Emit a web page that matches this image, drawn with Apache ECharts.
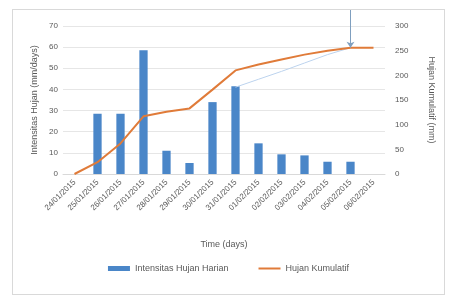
<!DOCTYPE html>
<html>
<head>
<meta charset="utf-8">
<script src="https://cdn.jsdelivr.net/npm/echarts@6/dist/echarts.min.js"></script>
<style>
  html, body { margin: 0; padding: 0; background: #fff; }
  #chart { position: absolute; left: 12px; top: 9px; width: 433px; height: 286px; border: 1px solid #d9d9d9; box-sizing: border-box; }
</style>
</head>
<body>
<div id="chart"></div>
<script>
var dates = ['24/01/2015', '25/01/2015', '26/01/2015', '27/01/2015', '28/01/2015', '29/01/2015', '30/01/2015',
             '31/01/2015', '01/02/2015', '02/02/2015', '03/02/2015', '04/02/2015', '05/02/2015', '06/02/2015'];
var hujanHarian = [0, 28.5, 28.5, 58.5, 11, 5.2, 34, 41.5, 14.5, 9.3, 8.8, 5.8, 5.8, 0];
var hujanKumulatif = [0, 24, 62, 117, 126, 133, 171, 210, 222, 232, 242, 250, 256, 256];
var garisBantu = [null, null, null, null, null, null, null, 176, 192, 208, 225, 242, 256, null];

var chartDom = document.getElementById('chart');
var myChart = echarts.init(chartDom);
var option;
var txt = '#595959';
var fontFam = 'Liberation Sans, Arial, sans-serif';

option = {
  animation: false,
  textStyle: { fontFamily: fontFam },
  grid: { left: 50, right: 59, top: 16, bottom: 120 },
  legend: {
    bottom: 16,
    left: 'center',
    itemGap: 30,
    itemWidth: 22,
    itemHeight: 5,
    textStyle: { color: txt, fontSize: 9 },
    data: [
      { name: 'Intensitas Hujan Harian', icon: 'rect' },
      { name: 'Hujan Kumulatif', icon: 'path://M0 0 H44 V4 H0 Z' }
    ]
  },
  xAxis: {
    type: 'category',
    data: dates,
    name: 'Time (days)',
    nameLocation: 'middle',
    nameGap: 66,
    nameTextStyle: { color: txt, fontSize: 9 },
    axisLine: { lineStyle: { color: '#d9d9d9' } },
    axisTick: { show: false },
    axisLabel: { rotate: 45, color: txt, fontSize: 8, interval: 0, margin: 7 }
  },
  yAxis: [
    {
      type: 'value',
      min: 0, max: 70, interval: 10,
      name: 'Intensitas Hujan (mm/days)',
      nameLocation: 'middle',
      nameGap: 24,
      nameMoveOverlap: false,
      nameTextStyle: { color: txt, fontSize: 9 },
      axisLabel: { color: txt, fontSize: 8, margin: 5 },
      splitLine: { lineStyle: { color: '#e6e6e6' } }
    },
    {
      type: 'value',
      min: 0, max: 300, interval: 50,
      name: 'Hujan Kumulatif (mm)',
      nameLocation: 'middle',
      nameGap: 42,
      nameRotate: -90,
      nameTextStyle: { color: txt, fontSize: 9 },
      axisLabel: { color: txt, fontSize: 8, margin: 10 },
      splitLine: { show: false }
    }
  ],
  series: [
    {
      name: 'Intensitas Hujan Harian',
      type: 'bar',
      data: hujanHarian,
      barWidth: '36%',
      itemStyle: { color: '#4a86c8' }
    },
    {
      name: 'garis',
      type: 'line',
      yAxisIndex: 1,
      data: garisBantu,
      symbol: 'none',
      lineStyle: { color: '#bcd3ee', width: 1 },
      silent: true
    },
    {
      name: 'Hujan Kumulatif',
      type: 'line',
      yAxisIndex: 1,
      data: hujanKumulatif,
      symbol: 'none',
      lineStyle: { color: '#e07b39', width: 2 },
      itemStyle: { color: '#e07b39' },
      markLine: {
        silent: true,
        symbol: ['none', 'arrow'],
        symbolSize: 6,
        label: { show: false },
        lineStyle: { color: '#7f9fbf', width: 1, type: 'solid' },
        data: [[
          { xAxis: '05/02/2015', y: 0 },
          { xAxis: '05/02/2015', yAxis: 256 }
        ]]
      }
    }
  ]
};

myChart.setOption(option);
</script>
</body>
</html>
